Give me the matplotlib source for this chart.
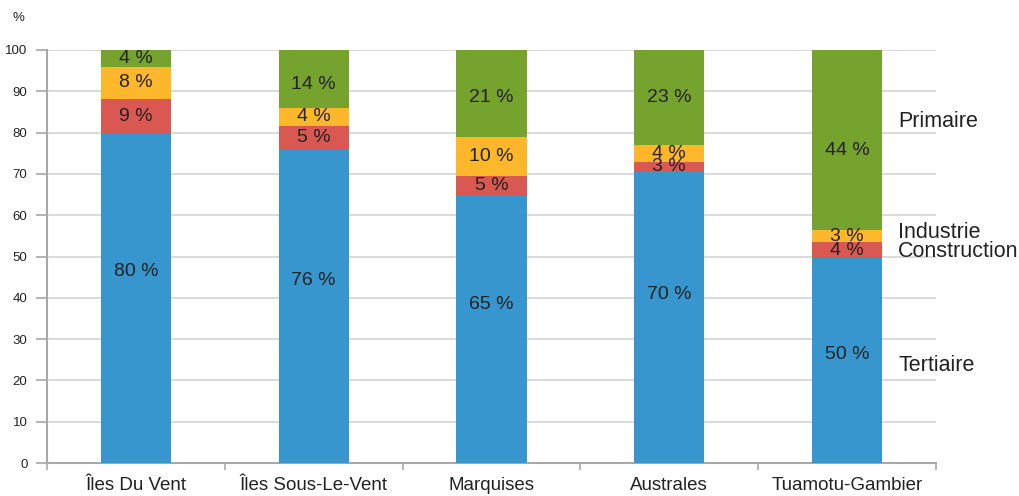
import matplotlib
matplotlib.use("Agg")
import matplotlib.pyplot as plt
import numpy as np

plt.rcParams['font.family'] = ['Liberation Sans', 'DejaVu Sans']

categories = ["Îles Du Vent", "Îles Sous-Le-Vent", "Marquises", "Australes", "Tuamotu-Gambier"]
series_names = ["Tertiaire", "Construction", "Industrie", "Primaire"]
tertiaire = [79.8, 76.0, 64.9, 70.5, 49.6]
construction = [8.4, 5.6, 4.6, 2.4, 3.9]
industrie = [7.8, 4.4, 9.4, 4.1, 2.9]
primaire = [4.0, 14.0, 21.1, 23.0, 43.6]
label_tertiaire = ["80 %", "76 %", "65 %", "70 %", "50 %"]
label_construction = ["9 %", "5 %", "5 %", "3 %", "4 %"]
label_industrie = ["8 %", "4 %", "10 %", "4 %", "3 %"]
label_primaire = ["4 %", "14 %", "21 %", "23 %", "44 %"]
yticks = [0, 10, 20, 30, 40, 50, 60, 70, 80, 90, 100]
legend_y = [23.7, 51.3, 55.9, 82.8]

# relative placement of value labels inside each segment
label_frac = [
    [0.58, 0.58, 0.59, 0.577, 0.53],
    [0.5, 0.5, 0.5, 0.5, 0.5],
    [0.5, 0.5, 0.5, 0.5, 0.5],
    [0.5, 0.4, 0.45, 0.5, 0.44],
]

colors = ["#3896CE", "#D95852", "#FDB72B", "#76A22E"]
series = [tertiaire, construction, industrie, primaire]
labels = [label_tertiaire, label_construction, label_industrie, label_primaire]

fig = plt.figure(figsize=(10.19, 4.96), dpi=100)
ax = fig.add_axes([47/1019, 1-463/496, (936-47)/1019, (463-50)/496])

x = np.arange(len(categories))
bottom = np.zeros(len(categories))
for vals, col, labs, fr in zip(series, colors, labels, label_frac):
    vals = np.array(vals)
    ax.bar(x, vals, bottom=bottom, width=0.395, color=col, edgecolor='none', zorder=3)
    for xi, b, v, lab, f in zip(x, bottom, vals, labs, fr):
        ax.text(xi, b + v * f, lab, ha='center', va='center', fontsize=14,
                color='#222222', zorder=4)
    bottom = bottom + vals

ax.set_xlim(-0.5, len(categories) - 0.5)
ax.set_ylim(0, 100)
ax.set_yticks(yticks)
ax.set_yticklabels([str(t) for t in yticks], fontsize=9.5, color='#222222')
ax.yaxis.grid(True, color='#d4d4d4', linewidth=1.2, zorder=0)
ax.tick_params(axis='y', length=8, color='#a8a8a8', width=1.2, pad=6)

ax.set_xticks(x)
ax.set_xticklabels(categories, fontsize=13.5, color='#222222')
ax.set_xticks(np.arange(-0.5, len(categories)), minor=True)
ax.tick_params(axis='x', which='major', length=0, pad=10)
ax.tick_params(axis='x', which='minor', length=5, color='#a8a8a8', width=1.2)

for s in ['top', 'right']:
    ax.spines[s].set_visible(False)
for s in ['left', 'bottom']:
    ax.spines[s].set_color('#a8a8a8')
    ax.spines[s].set_linewidth(1.5)

for name, yy in zip(series_names, legend_y):
    ax.text(4.287, yy, name, ha='left', va='center', fontsize=15.5, color='#222222',
            clip_on=False)

fig.text(18/1019, 1-18/496, "%", ha='center', va='center', fontsize=9.5, color='#222222')

fig.savefig("out.png", dpi=100)
